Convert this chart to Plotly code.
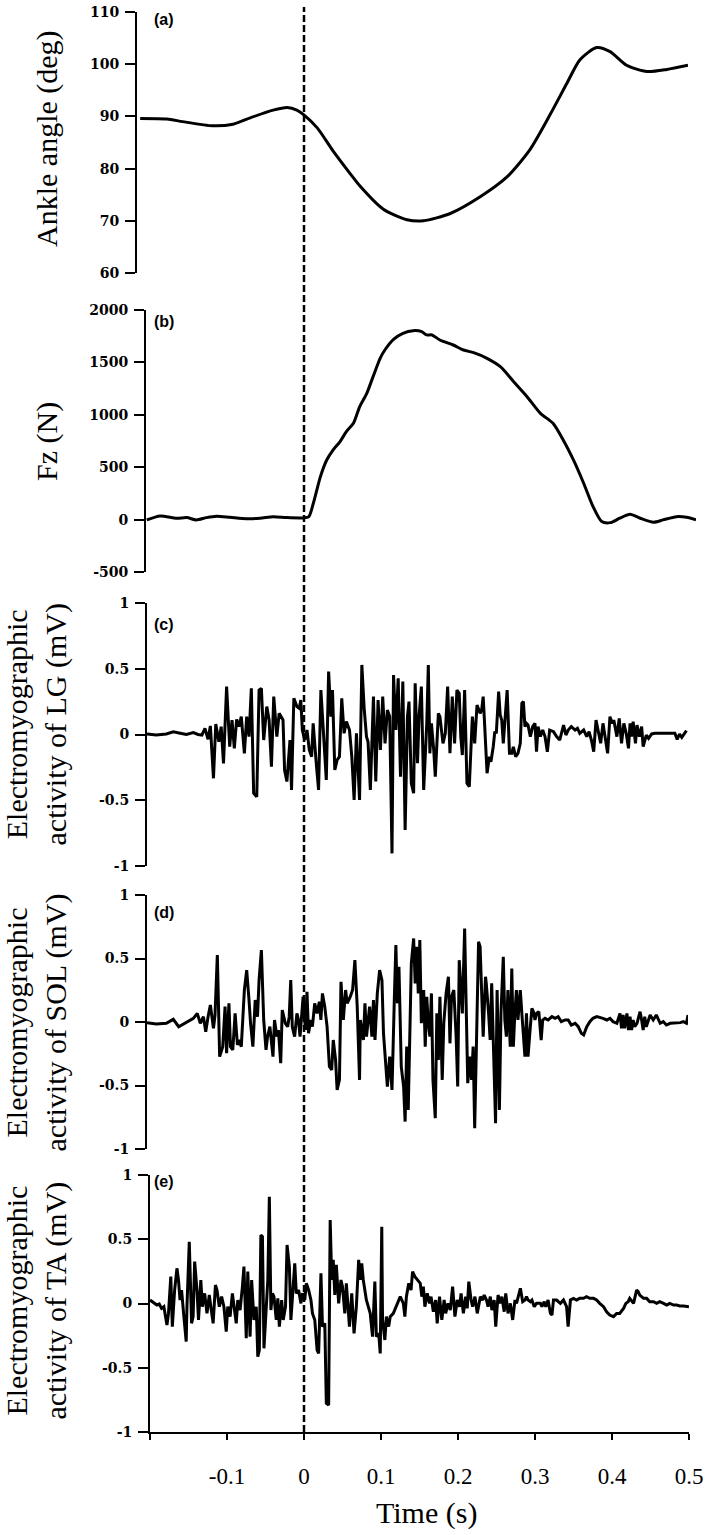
import plotly.graph_objects as go

# ---------------- data ----------------
ankle_t = [-0.196, -0.162, -0.142, -0.104, -0.078, -0.053, -0.027, -0.009, 0.003, 0.012,
           0.029, 0.049, 0.071, 0.083, 0.113, 0.143, 0.164, 0.198, 0.236, 0.270,
           0.299, 0.325, 0.346, 0.363, 0.384, 0.401, 0.422, 0.448, 0.473, 0.500]
ankle_deg = [89.6, 89.5, 89.0, 88.2, 88.5, 89.9, 91.2, 91.7, 91.2, 90.3,
             87.8, 83.4, 79.0, 76.7, 72.2, 70.2, 70.0, 71.4, 74.6, 78.4,
             83.6, 90.4, 96.3, 100.9, 103.2, 102.4, 99.8, 98.6, 99.0, 99.8]

fz_t = [-0.199, -0.182, -0.161, -0.148, -0.136, -0.123, -0.110, -0.093, -0.072, -0.055,
        -0.038, -0.021, 0.000, 0.007, 0.013, 0.022, 0.030, 0.038, 0.047, 0.055,
        0.064, 0.072, 0.081, 0.089, 0.098, 0.104, 0.115, 0.127, 0.140, 0.151,
        0.157, 0.164, 0.174, 0.191, 0.204, 0.217, 0.234, 0.251, 0.268, 0.285,
        0.302, 0.318, 0.331, 0.344, 0.357, 0.369, 0.380, 0.391, 0.403, 0.416,
        0.429, 0.446, 0.458, 0.475, 0.488, 0.500]
fz_n = [-3, 35, 13, 19, -3, 19, 32, 22, 9, 13,
        28, 19, 16, 25, 156, 410, 569, 664, 745, 840,
        919, 1078, 1205, 1364, 1539, 1618, 1720, 1778, 1803, 1793,
        1762, 1762, 1714, 1666, 1618, 1593, 1539, 1459, 1316, 1173,
        1014, 919, 760, 569, 347, 124, -19, -29, 13, 51,
        13, -25, -3, 28, 22, -3]

lg_t = [-0.200, -0.188, -0.175, -0.166, -0.157, -0.149, -0.140, -0.134, -0.129, -0.125,
        -0.121, -0.118, -0.114, -0.111, -0.107, -0.104, -0.101, -0.097, -0.093, -0.090,
        -0.087, -0.084, -0.081, -0.078, -0.074, -0.071, -0.068, -0.065, -0.062, -0.058,
        -0.055, -0.052, -0.049, -0.045, -0.042, -0.039, -0.036, -0.032, -0.029,
        -0.024, -0.022, -0.019, -0.015, -0.013, -0.010, -0.006, -0.003, -0.001, 0.001,
        0.004, 0.007, 0.010, 0.013, 0.015, 0.019, 0.022, 0.025, 0.028, 0.032,
        0.035, 0.038, 0.040, 0.043, 0.046, 0.049, 0.052, 0.055, 0.058, 0.062,
        0.065, 0.068, 0.071, 0.075, 0.078, 0.081, 0.084, 0.086, 0.089, 0.093,
        0.096, 0.099, 0.102, 0.105, 0.108, 0.111, 0.114, 0.117, 0.119, 0.122,
        0.125, 0.128, 0.131, 0.134, 0.137, 0.139, 0.142, 0.145, 0.147, 0.150,
        0.152, 0.155, 0.158, 0.162, 0.164, 0.166, 0.168, 0.171, 0.173, 0.177,
        0.179, 0.183, 0.186, 0.189, 0.192, 0.195, 0.198, 0.201, 0.204, 0.206,
        0.208, 0.211, 0.214, 0.217, 0.221, 0.224, 0.227,
        0.231, 0.233, 0.235, 0.237, 0.240, 0.243, 0.245, 0.248, 0.250, 0.252,
        0.255, 0.257, 0.259, 0.261, 0.264, 0.266, 0.269, 0.272, 0.274, 0.277,
        0.280, 0.283, 0.285, 0.287, 0.289, 0.291, 0.293, 0.296, 0.299, 0.302,
        0.304, 0.306, 0.309, 0.312, 0.315, 0.318, 0.321, 0.326, 0.330, 0.334,
        0.339, 0.342, 0.345, 0.349, 0.354, 0.357, 0.360, 0.365, 0.369, 0.372,
        0.375, 0.378, 0.381, 0.384, 0.387, 0.390, 0.394, 0.396, 0.399, 0.402,
        0.404, 0.408, 0.411, 0.414, 0.417, 0.420, 0.423, 0.425, 0.427, 0.429,
        0.432, 0.434, 0.437, 0.440, 0.442, 0.446, 0.449, 0.453, 0.457, 0.464,
        0.470, 0.477, 0.483, 0.486, 0.489, 0.492, 0.495, 0.498]
lg_mv = [0.004, -0.004, 0.004, 0.020, 0.010, 0.000, 0.014, 0.000, -0.004, 0.047,
         -0.037, 0.065, -0.333, 0.080, -0.055, 0.060, -0.220, 0.364, -0.093, 0.110,
         -0.105, 0.115, 0.060, 0.136, -0.143, 0.136, -0.016, 0.351, -0.447, -0.473,
         0.338, 0.351, -0.042, 0.212, 0.110, -0.245, 0.288, -0.016, 0.161,
         0.110, -0.270, -0.358, -0.042, -0.422, 0.275, 0.212, 0.199, 0.262, 0.034,
         -0.042, 0.034, -0.118, -0.169, 0.085, -0.219, -0.422, 0.338, 0.034, -0.346,
         0.478, 0.136, 0.338, -0.270, -0.194, -0.169, 0.275, 0.009, 0.098, 0.034,
         -0.169, -0.498, 0.009, -0.498, 0.529, 0.199, -0.016, -0.055, -0.422, 0.288,
         -0.358, 0.262, -0.118, 0.288, -0.067, 0.186, 0.136, -0.904, 0.452, 0.034,
         0.427, -0.321, 0.402, -0.726, 0.136, 0.250, -0.371, -0.447, 0.389, -0.219,
         0.136, 0.364, -0.422, 0.085, 0.529, -0.143, 0.085, -0.118, -0.321, 0.161,
         0.136, -0.067, 0.009, 0.364, -0.143, 0.288, -0.067, 0.338, 0.313, -0.016,
         -0.156, 0.338, -0.371, -0.397, 0.136, -0.067, 0.224,
         0.161, 0.186, 0.288, 0.060, -0.295, -0.169, -0.207, -0.093, 0.022, 0.009,
         0.326, 0.148, 0.110, -0.067, 0.161, 0.338, -0.143, -0.143, -0.093, -0.169,
         -0.143, -0.067, 0.237, 0.250, 0.060, 0.085, 0.072, -0.016, 0.060, 0.085,
         -0.131, 0.060, -0.016, 0.034, -0.016, -0.131, 0.034, 0.022, -0.016, -0.042,
         0.072, -0.004, 0.034, 0.060, 0.034, 0.047, 0.009, 0.034, -0.016, 0.022,
         -0.042, -0.131, 0.110, 0.034, -0.067, 0.085, -0.055, -0.143, 0.136, 0.085,
         0.110, -0.016, 0.123, -0.067, 0.085, 0.009, -0.105, 0.085, -0.016, 0.098,
         -0.067, 0.072, -0.016, 0.060, -0.093, -0.004, -0.029, 0.004, 0.009, 0.009,
         0.014, 0.014, 0.009, -0.037, 0.004, -0.022, 0.009, 0.029]

sol_t = [-0.200, -0.188, -0.175, -0.166, -0.159, -0.153, -0.147, -0.140, -0.135, -0.131,
         -0.127, -0.124, -0.121, -0.118, -0.114, -0.112, -0.109, -0.106, -0.102, -0.099,
         -0.097, -0.094, -0.092, -0.089, -0.086, -0.083, -0.081, -0.078, -0.074, -0.071,
         -0.068, -0.066, -0.063, -0.060, -0.057, -0.055, -0.052, -0.049, -0.046, -0.044,
         -0.041, -0.037, -0.035, -0.032, -0.030, -0.027, -0.025, -0.021, -0.018, -0.016,
         -0.014, -0.012, -0.009, -0.006, -0.004, -0.002, 0.000, 0.002, 0.005, 0.007,
         0.009, 0.012, 0.014, 0.017, 0.020, 0.023, 0.025, 0.027, 0.030, 0.033,
         0.036, 0.039, 0.041, 0.044, 0.046, 0.049, 0.051, 0.054, 0.057, 0.059,
         0.063, 0.066, 0.069, 0.072, 0.075,
         0.076, 0.080, 0.082, 0.084, 0.088, 0.091, 0.093, 0.095, 0.098, 0.101,
         0.104, 0.106, 0.108, 0.111, 0.114, 0.117, 0.120, 0.122, 0.124, 0.126,
         0.129, 0.132, 0.134, 0.136, 0.138, 0.140, 0.142, 0.145, 0.147, 0.149,
         0.151, 0.153, 0.155, 0.158, 0.160, 0.162, 0.164, 0.166, 0.168, 0.170,
         0.173, 0.175, 0.177, 0.179, 0.182, 0.184, 0.187, 0.190, 0.192, 0.194,
         0.197, 0.200, 0.202, 0.204, 0.207, 0.208, 0.211, 0.213, 0.215, 0.218,
         0.220, 0.222, 0.224, 0.227, 0.229, 0.231, 0.233, 0.235, 0.238, 0.239,
         0.242, 0.244, 0.246, 0.248, 0.251, 0.253, 0.256, 0.258, 0.261, 0.263,
         0.265, 0.267, 0.270, 0.272, 0.274, 0.276, 0.278, 0.280, 0.283, 0.285,
         0.287, 0.289, 0.291, 0.293, 0.296, 0.298, 0.300, 0.302, 0.304, 0.307,
         0.310, 0.312, 0.315, 0.319, 0.324, 0.328, 0.332, 0.336, 0.341, 0.345,
         0.349, 0.354, 0.358, 0.362, 0.365, 0.369, 0.373, 0.377, 0.382, 0.386,
         0.390, 0.395, 0.399, 0.403, 0.408, 0.412, 0.414, 0.416, 0.418, 0.421,
         0.423, 0.425, 0.427, 0.429, 0.431, 0.434, 0.438, 0.440, 0.442, 0.444,
         0.446, 0.451, 0.455, 0.459, 0.464, 0.468, 0.472, 0.477, 0.481, 0.485,
         0.490, 0.494, 0.498, 0.500]
sol_mv = [-0.005, -0.016, -0.010, 0.021, -0.037, -0.016, 0.003, 0.029, 0.068, -0.010,
          0.042, -0.076, 0.042, 0.134, -0.050, 0.055, 0.527, -0.273, -0.194, 0.121,
          -0.246, 0.147, -0.194, -0.220, 0.068, -0.181, -0.142, -0.194, 0.252, 0.409,
          0.173, -0.010, -0.194, 0.173, 0.042, 0.330, 0.566, 0.016, -0.220, -0.115,
          -0.037, -0.273, 0.016, -0.115, -0.063, -0.325, 0.094, -0.010, -0.037, 0.042,
          0.330, -0.037, -0.115, 0.068, 0.016, -0.115, 0.042, 0.199, -0.063, 0.238,
          -0.089, 0.016, -0.037, 0.147, 0.068, 0.160, 0.016, 0.225, 0.121, -0.037,
          -0.351, -0.377, -0.142, -0.299, -0.535, -0.456, 0.317, 0.016, 0.252, 0.147,
          0.199, 0.252, 0.487, 0.121, -0.456,
          0.016, -0.142, 0.147, -0.115, 0.121, -0.115, 0.173, -0.142, 0.225, 0.409,
          0.330, -0.089, -0.246, -0.508, -0.273, -0.535, 0.173, 0.605, 0.147, 0.435,
          -0.351, -0.508, -0.784, -0.194, -0.692, 0.042, 0.461, 0.658, 0.304, 0.592,
          0.225, 0.645, -0.010, 0.252, -0.194, 0.199, -0.010, -0.115, 0.225, -0.456,
          -0.757, 0.068, -0.299, 0.199, -0.456, -0.010, 0.225, 0.356, -0.168, 0.199,
          0.252, -0.115, -0.508, 0.487, 0.094, 0.068, 0.736, 0.094, -0.482, -0.273,
          -0.456, -0.194, -0.836, 0.042, 0.632, 0.592, 0.278, -0.115, 0.356, 0.304,
          0.068, -0.142, 0.304, -0.115, -0.797, 0.252, -0.692, 0.068, 0.514, 0.016,
          -0.115, 0.252, -0.194, 0.422, -0.194, 0.068, 0.252, 0.016, 0.252, 0.068,
          -0.089, -0.273, 0.068, -0.273, -0.037, 0.107, 0.081, 0.016, 0.068, 0.081,
          -0.142, 0.016, 0.029, 0.016, 0.042, 0.029, 0.042, 0.003, 0.016, 0.016,
          -0.024, -0.010, -0.037, -0.089, -0.102, -0.037, 0.003, 0.029, 0.042, 0.037,
          0.029, 0.016, 0.029, 0.003, -0.010, 0.068, -0.050, 0.055, -0.050, 0.068,
          -0.063, 0.042, -0.063, 0.016, -0.037, -0.010, 0.081, 0.016, -0.063, 0.042,
          -0.037, 0.055, 0.016, 0.055, -0.010, 0.003, -0.024, -0.010, -0.010, -0.005,
          -0.005, 0.003, -0.010, 0.055]

ta_t = [-0.200, -0.195, -0.191, -0.188, -0.185, -0.182, -0.178, -0.176, -0.173, -0.171,
        -0.168, -0.165, -0.163, -0.161, -0.159, -0.156, -0.153, -0.152, -0.149, -0.146,
        -0.144, -0.142, -0.139, -0.137, -0.134, -0.132, -0.129, -0.126, -0.123, -0.121,
        -0.118, -0.115, -0.113, -0.110, -0.107, -0.104, -0.101, -0.099, -0.096, -0.093,
        -0.091, -0.088, -0.086, -0.083, -0.080, -0.078, -0.075, -0.073, -0.070, -0.068,
        -0.065, -0.062, -0.060, -0.058, -0.056, -0.054, -0.052, -0.049, -0.047, -0.045,
        -0.043, -0.041, -0.039, -0.036, -0.034, -0.032, -0.029, -0.027, -0.024, -0.022,
        -0.019, -0.017, -0.015, -0.012, -0.010, -0.007, -0.004, -0.002, 0.001, 0.003,
        0.006, 0.009, 0.011, 0.014, 0.017, 0.019, 0.022, 0.024, 0.027, 0.029,
        0.032, 0.034, 0.036, 0.038, 0.040, 0.042, 0.045, 0.048, 0.050, 0.053,
        0.055, 0.059, 0.062, 0.065, 0.068, 0.071,
        0.073, 0.075, 0.077, 0.081, 0.086, 0.089, 0.092, 0.094, 0.097, 0.099,
        0.101, 0.102, 0.105, 0.107, 0.110, 0.112, 0.116, 0.120, 0.125, 0.129,
        0.131, 0.133, 0.136, 0.139, 0.141, 0.144, 0.147, 0.151, 0.153, 0.155,
        0.157, 0.160, 0.163, 0.165, 0.168, 0.171, 0.173, 0.176, 0.179, 0.182,
        0.184, 0.187, 0.190, 0.193, 0.196, 0.199, 0.202, 0.204, 0.207, 0.210,
        0.212, 0.214, 0.217, 0.219, 0.222, 0.225, 0.229, 0.232, 0.234, 0.237,
        0.239, 0.242, 0.244, 0.247, 0.249, 0.252, 0.255, 0.257, 0.260, 0.262,
        0.265, 0.268, 0.271, 0.274, 0.276, 0.279, 0.281, 0.284, 0.287, 0.289,
        0.291, 0.294, 0.296, 0.299, 0.302, 0.307, 0.309, 0.312, 0.314, 0.317,
        0.320, 0.322, 0.324, 0.328, 0.333, 0.337, 0.341, 0.343, 0.346, 0.350,
        0.354, 0.358, 0.363, 0.367, 0.371, 0.376, 0.380, 0.384, 0.389, 0.393,
        0.397, 0.402, 0.406, 0.410, 0.415, 0.418, 0.421, 0.423, 0.428, 0.430,
        0.432, 0.434, 0.436, 0.441, 0.445, 0.449, 0.454, 0.458, 0.462, 0.467,
        0.471, 0.475, 0.480, 0.484, 0.488, 0.493, 0.497, 0.500]
ta_mv = [0.027, 0.006, -0.012, -0.004, -0.038, -0.025, -0.167, -0.077, 0.209, -0.180,
         0.105, 0.274, 0.183, 0.027, 0.105, -0.102, -0.297, -0.025, 0.481, -0.154,
         -0.102, 0.326, 0.105, -0.128, 0.183, -0.025, 0.079, -0.077, 0.066, -0.025,
         -0.154, 0.144, 0.105, -0.025, 0.053, -0.025, -0.219, -0.025, -0.102, 0.079,
         0.001, -0.154, 0.027, -0.051, 0.131, 0.287, -0.271, 0.248, -0.258, 0.183,
         -0.128, -0.025, -0.414, -0.362, 0.533, 0.520, -0.349, 0.027, 0.183, 0.831,
         -0.051, 0.079, 0.053, -0.128, 0.040, -0.180, 0.027, -0.128, -0.025, 0.455,
         0.287, -0.128, 0.079, 0.313, 0.079, 0.105, 0.001, 0.079, 0.027, 0.157,
         0.105, 0.027, -0.077, -0.128, -0.362, -0.388, 0.235, -0.180, -0.154, -0.777,
         -0.790, 0.650, 0.183, 0.339, 0.066, 0.300, 0.001, 0.183, 0.131, -0.077,
         0.157, -0.180, 0.079, -0.232, -0.025, 0.339,
         0.183, 0.313, 0.183, 0.027, -0.077, -0.258, 0.170, -0.258, -0.232, -0.388,
         0.598, -0.128, -0.284, -0.102, -0.180, -0.102, -0.077, -0.025, 0.053, 0.001,
         -0.102, 0.053, 0.157, 0.105, 0.248, 0.209, 0.183, 0.157, 0.053, 0.131,
         -0.025, 0.079, 0.001, 0.053, -0.064, 0.027, -0.154, 0.053, -0.128, 0.027,
         -0.077, 0.001, -0.051, 0.131, -0.102, 0.027, -0.025, 0.079, -0.077, 0.053,
         -0.038, 0.170, 0.027, -0.025, 0.053, -0.077, 0.053, 0.027, 0.066, 0.027,
         -0.025, 0.053, -0.051, 0.027, -0.180, 0.066, 0.001, 0.053, -0.064, 0.079,
         -0.077, 0.001, -0.128, 0.027, 0.001, 0.079, 0.118, 0.014, 0.027, 0.053,
         0.027, 0.014, 0.027, -0.025, 0.001, 0.001, -0.025, 0.014, -0.025, 0.027,
         -0.077, -0.090, 0.027, 0.027, 0.001, 0.027, -0.025, -0.180, 0.027, 0.040,
         0.027, 0.040, 0.040, 0.053, 0.040, 0.040, 0.027, 0.001, -0.025, -0.064,
         -0.090, -0.102, -0.077, -0.077, -0.038, 0.001, 0.014, 0.040, 0.001, 0.053,
         0.105, 0.092, 0.066, 0.040, 0.040, 0.014, 0.014, 0.001, 0.014, 0.001,
         -0.012, 0.001, -0.012, -0.012, -0.019, -0.019, -0.025, -0.025]

# tick labels
ankle_ticks = [60, 70, 80, 90, 100, 110]
ankle_ticktext = ["60", "70", "80", "90", "100", "110"]
fz_ticks = [-500, 0, 500, 1000, 1500, 2000]
fz_ticktext = ["-500", "0", "500", "1000", "1500", "2000"]
emg_ticks = [-1, -0.5, 0, 0.5, 1]
emg_ticktext = ["-1", "-0.5", "0", "0.5", "1"]
time_ticks = [-0.2, -0.1, 0, 0.1, 0.2, 0.3, 0.4, 0.5]
time_ticktext = ["", "-0.1", "0", "0.1", "0.2", "0.3", "0.4", "0.5"]

panel_letters = ["(a)", "(b)", "(c)", "(d)", "(e)"]
y_titles = ["Ankle angle (deg)", "Fz (N)",
            "Electromyographic<br>activity of LG (mV)",
            "Electromyographic<br>activity of SOL (mV)",
            "Electromyographic<br>activity of TA (mV)"]

for a, b in [(ankle_t, ankle_deg), (fz_t, fz_n), (lg_t, lg_mv), (sol_t, sol_mv), (ta_t, ta_mv)]:
    assert len(a) == len(b), (len(a), len(b))

# ---------------- layout helpers (pixel -> paper) ----------------
W, H = 709, 1535
def PX(x):
    return x / W
def PY(y):
    return 1 - y / H

fig = go.Figure()
series = [(ankle_t, ankle_deg, "spline"), (fz_t, fz_n, "spline"),
          (lg_t, lg_mv, "linear"), (sol_t, sol_mv, "linear"), (ta_t, ta_mv, "linear")]
for i, (tx, vy, shape) in enumerate(series):
    k = "" if i == 0 else str(i + 1)
    fig.add_trace(go.Scatter(x=tx, y=vy, mode="lines",
                             line=dict(color="black", width=3, shape=shape, smoothing=0.7),
                             xaxis="x" + k, yaxis="y" + k, showlegend=False, hoverinfo="skip"))

# panel geometry in pixels: (x_left, x_right, y_top, y_bottom)
panels = [(137, 688, 12, 273), (146, 696, 310, 572), (147, 688, 603, 866),
          (147, 688, 895, 1149), (150, 689, 1175, 1432)]
yranges = [[60, 110], [-500, 2000], [-1, 1], [-1, 1], [-1, 1]]
yticks = [(ankle_ticks, ankle_ticktext), (fz_ticks, fz_ticktext),
          (emg_ticks, emg_ticktext), (emg_ticks, emg_ticktext), (emg_ticks, emg_ticktext)]

tickfont = dict(family="DejaVu Serif", size=14, color="black", weight="bold")
layout = {}
for i, (xl, xr, yt, yb) in enumerate(panels):
    k = "" if i == 0 else str(i + 1)
    last = (i == 4)
    xa = dict(domain=[PX(xl), PX(xr)], range=[-0.2, 0.5], anchor="y" + k,
              showgrid=False, zeroline=False, automargin=False, fixedrange=True)
    if last:
        xa.update(showline=True, linecolor="black", linewidth=2, ticks="outside",
                  ticklen=6, tickwidth=2, tickcolor="black",
                  tickvals=time_ticks, ticktext=time_ticktext,
                  tickfont=dict(family="Liberation Serif", size=23, color="black"),
                  ticklabelstandoff=16)
    else:
        xa.update(visible=False)
    ya = dict(domain=[PY(yb), PY(yt)], range=yranges[i], anchor="x" + k,
              showgrid=False, zeroline=False, automargin=False, fixedrange=True,
              showline=True, linecolor="black", linewidth=2, ticks="outside",
              ticklen=10, tickwidth=2, tickcolor="black",
              tickvals=yticks[i][0], ticktext=yticks[i][1], tickfont=tickfont,
              ticklabelstandoff=3)
    layout["xaxis" + k] = xa
    layout["yaxis" + k] = ya

annotations = []
letter_pos = [19.5, 322, 624, 912, 1181]
for i, lab in enumerate(panel_letters):
    annotations.append(dict(text="<b>" + lab + "</b>", x=PX(152), y=PY(letter_pos[i]),
                            xref="paper", yref="paper", xanchor="left", yanchor="middle",
                            showarrow=False,
                            font=dict(family="Liberation Sans", size=16, color="black")))
title_pos = [(47.5, 138.5), (47, 441), (35.5, 725), (35.5, 1023), (35.5, 1301)]
for i, t in enumerate(y_titles):
    annotations.append(dict(text=t, x=PX(title_pos[i][0]), y=PY(title_pos[i][1]),
                            xref="paper", yref="paper", xanchor="center", yanchor="middle",
                            textangle=-90, showarrow=False,
                            font=dict(family="Liberation Serif", size=30, color="black")))
annotations.append(dict(text="Time (s)", x=PX(426.5), y=PY(1513), xref="paper", yref="paper",
                        xanchor="center", yanchor="middle", showarrow=False,
                        font=dict(family="Liberation Serif", size=30, color="black")))

fig.update_layout(
    width=W, height=H, template="none",
    margin=dict(l=0, r=0, t=0, b=0, pad=0),
    paper_bgcolor="white", plot_bgcolor="rgba(0,0,0,0)",
    showlegend=False, annotations=annotations,
    shapes=[dict(type="line", xref="x5", yref="paper", x0=0, x1=0,
                 y0=PY(1432), y1=PY(7),
                 line=dict(color="black", width=2.5, dash="7px,3px"))],
    **layout)

fig.write_html("out.html")
